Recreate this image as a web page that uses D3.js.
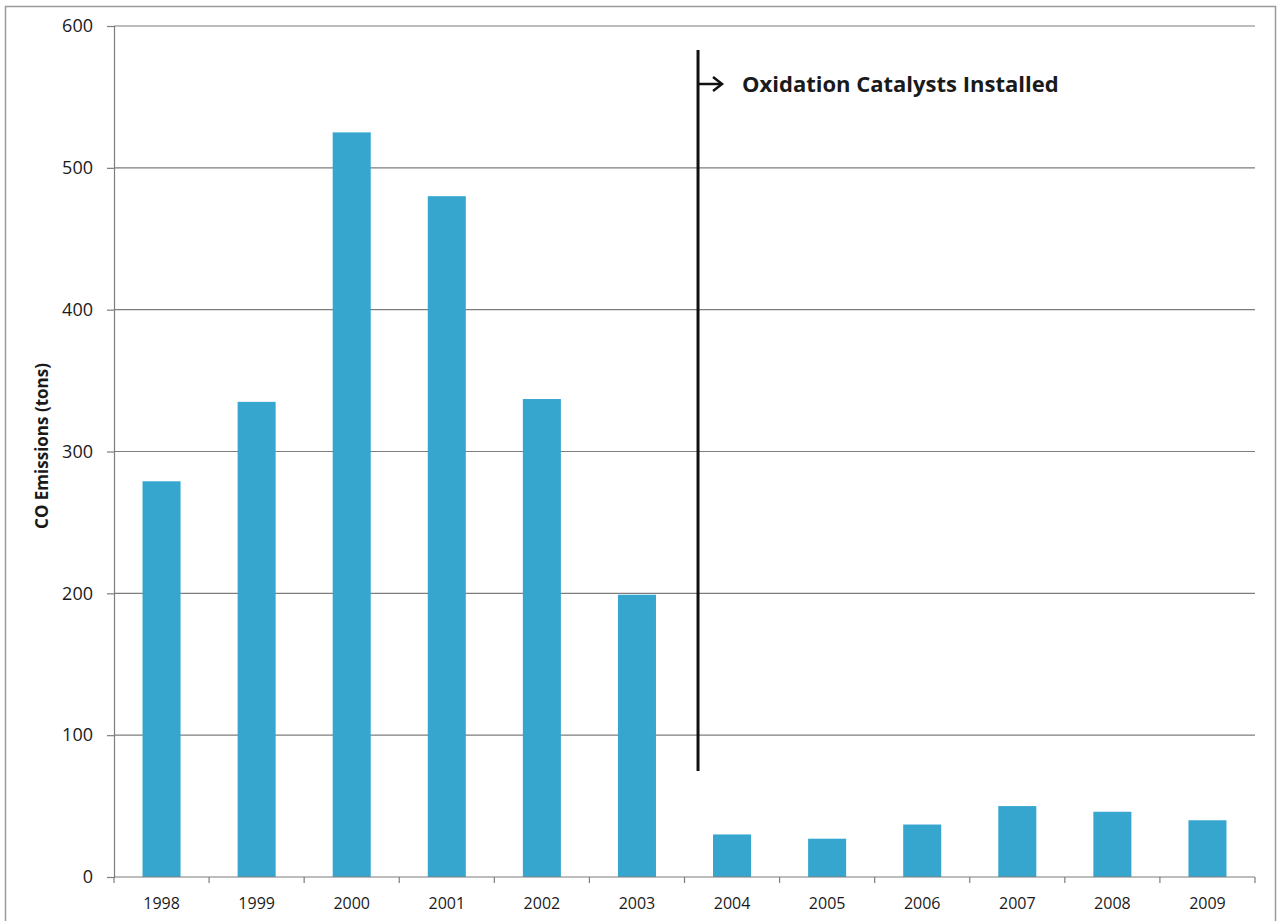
<!DOCTYPE html>
<html>
<head>
<meta charset="utf-8">
<script src="https://cdn.jsdelivr.net/npm/d3@7"></script>
<style>
  html, body { margin: 0; padding: 0; background: #fff; }
  svg { display: block; }
  text { font-family: "Open Sans", "Noto Sans", "DejaVu Sans", sans-serif; fill: #1a1a1a; }
</style>
</head>
<body>
<svg id="chart" width="1278" height="921"></svg>
<script>
// CO emissions per year
const years = ["1998", "1999", "2000", "2001", "2002", "2003", "2004", "2005", "2006", "2007", "2008", "2009"];
const emissions = [279, 335, 525, 480, 337, 199, 30, 27, 37, 50, 46, 40];
const yTicks = [0, 100, 200, 300, 400, 500, 600];
const markerYear = "2004";
const markerLabel = "Oxidation Catalysts Installed";
const yTitle = "CO Emissions (tons)";

const svg = d3.select("#chart");
const W = 1278, H = 921;
const margin = { left: 114, right: 23, top: 26, bottom: 44 };
const plotW = W - margin.left - margin.right;
const plotH = H - margin.top - margin.bottom;

// outer frame
svg.append("rect")
  .attr("x", 5.5).attr("y", 6.5)
  .attr("width", 1270).attr("height", 930)
  .attr("fill", "none").attr("stroke", "#9a9a9a").attr("stroke-width", 1.5);

const g = svg.append("g").attr("transform", `translate(${margin.left},${margin.top})`);

const x = d3.scaleBand().domain(years).range([0, plotW]).paddingInner(0.6).paddingOuter(0.3);
const y = d3.scaleLinear().domain([0, 600]).range([plotH, 0]);

// horizontal gridlines
g.append("g")
  .selectAll("line")
  .data(yTicks.filter(d => d > 0))
  .join("line")
  .attr("x1", 0).attr("x2", plotW)
  .attr("y1", d => y(d)).attr("y2", d => y(d))
  .attr("stroke", "#7d7d7d").attr("stroke-width", 1.2);

// bars
g.append("g")
  .selectAll("rect")
  .data(years.map((yr, i) => ({ yr, v: emissions[i] })))
  .join("rect")
  .attr("x", d => x(d.yr))
  .attr("y", d => y(d.v))
  .attr("width", x.bandwidth())
  .attr("height", d => plotH - y(d.v))
  .attr("fill", "#36a6cf");

// y axis
const yAxis = g.append("g")
  .call(d3.axisLeft(y).tickValues(yTicks).tickSize(7).tickPadding(14).tickFormat(d3.format("d")));
yAxis.select(".domain").attr("stroke", "#7d7d7d").attr("stroke-width", 1.2);
yAxis.selectAll(".tick line").attr("stroke", "#7d7d7d").attr("stroke-width", 1.2);
yAxis.selectAll(".tick text").style("font-size", "18px").attr("fill", "#111");

// x axis with ticks between categories
const step = x.step();
const xAxisG = g.append("g").attr("transform", `translate(0,${plotH})`);
xAxisG.append("line")
  .attr("x1", 0).attr("x2", plotW).attr("y1", 0).attr("y2", 0)
  .attr("stroke", "#7d7d7d").attr("stroke-width", 1.2);
xAxisG.selectAll("line.sep")
  .data(d3.range(years.length + 1))
  .join("line")
  .attr("class", "sep")
  .attr("x1", i => i * step).attr("x2", i => i * step)
  .attr("y1", 0).attr("y2", 6)
  .attr("stroke", "#7d7d7d").attr("stroke-width", 1.2);
xAxisG.selectAll("text")
  .data(years)
  .join("text")
  .attr("x", d => x(d) + x.bandwidth() / 2)
  .attr("y", 32)
  .attr("text-anchor", "middle")
  .style("font-size", "16px")
  .text(d => d);

// y axis title
svg.append("text")
  .attr("transform", `translate(48,446) rotate(-90)`)
  .attr("text-anchor", "middle")
  .style("font-size", "17px")
  .style("font-weight", "bold")
  .text(yTitle);

// marker line just before the first year with catalysts
const mx = margin.left + x(markerYear) - 15;
svg.append("line")
  .attr("x1", mx).attr("x2", mx)
  .attr("y1", 50).attr("y2", 771)
  .attr("stroke", "#111").attr("stroke-width", 3);

// arrow
const ay = 84;
svg.append("line")
  .attr("x1", mx).attr("x2", mx + 23)
  .attr("y1", ay).attr("y2", ay)
  .attr("stroke", "#111").attr("stroke-width", 2.5);
svg.append("path")
  .attr("d", `M${mx + 15},${ay - 7} L${mx + 24},${ay} L${mx + 15},${ay + 7}`)
  .attr("fill", "none").attr("stroke", "#111").attr("stroke-width", 2.5);

svg.append("text")
  .attr("x", mx + 44).attr("y", ay + 8)
  .style("font-size", "22px")
  .style("font-weight", "bold")
  .text(markerLabel);
</script>
</body>
</html>
